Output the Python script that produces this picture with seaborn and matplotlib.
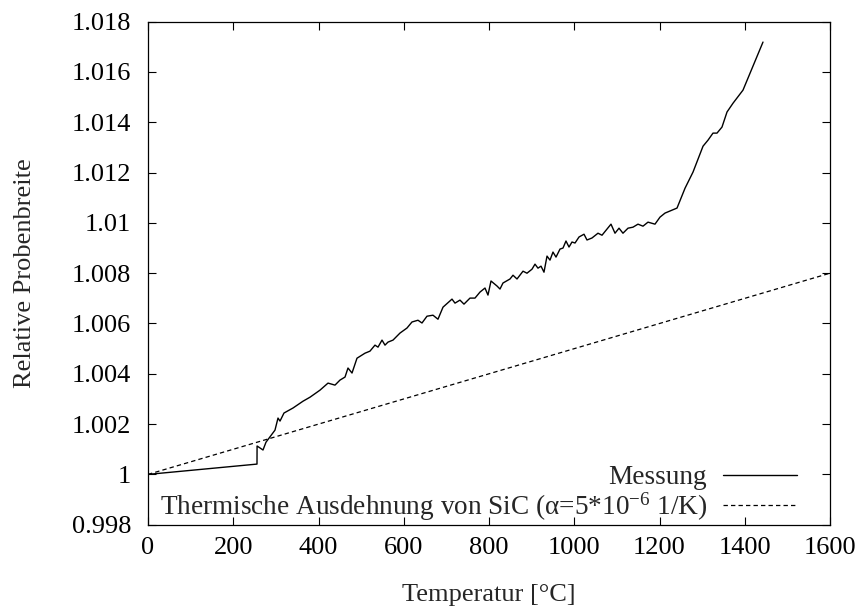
import numpy as np
import pandas as pd
import matplotlib
matplotlib.use("Agg")
import matplotlib.pyplot as plt
from matplotlib.ticker import FuncFormatter, MultipleLocator
import seaborn as sns

temp_mess = [0, 255.7, 255.9, 269.8, 276.8, 297.9, 305, 309.7, 319, 340.2, 363.6, 380.1,
             403.5, 422.3, 438.7, 450.4, 462.2, 469.2, 478.6, 490.3, 509.1, 520.7, 532.5,
             539.6, 549, 556, 563, 574.8, 591.2, 607.6, 619.3, 633.4, 642.8, 654.5,
             668.6, 680.3, 692.1, 713.2, 720.2, 731.9, 741.3, 755.4, 767.1, 778.9, 790.6,
             797.6, 804.7, 818.8, 825.8, 832.8, 849.3, 856.3, 865.7, 879.8, 889.1, 900.9,
             907.9, 914.9, 922, 929, 936.1, 943.1, 950.1, 957.2, 966.6, 973.6, 980.6,
             987.7, 994.7, 1001.8, 1011.2, 1022.9, 1029.9, 1041.6, 1055.7, 1065.1, 1086.2,
             1095.6, 1105, 1114.3, 1126.1, 1137.8, 1149.5, 1161.3, 1173, 1189.4, 1201.2,
             1212.9, 1241.1, 1259.9, 1278.6, 1302.1, 1313.8, 1325.5, 1334.9, 1346.6, 1358.4,
             1372.5, 1395.9, 1442.8]
breite_mess = [1.0, 1.00041, 1.00113, 1.00097, 1.00128, 1.00176, 1.00224, 1.00212, 1.00244,
               1.00264, 1.00291, 1.00307, 1.00335, 1.00363, 1.00355, 1.00375, 1.00387,
               1.00423, 1.00403, 1.00462, 1.00482, 1.0049, 1.00514, 1.00506, 1.00534,
               1.00514, 1.00526, 1.00534, 1.00562, 1.00582, 1.00606, 1.00613, 1.00602,
               1.00629, 1.00633, 1.00617, 1.00665, 1.00697, 1.00681, 1.00693, 1.00677,
               1.00701, 1.00701, 1.00725, 1.00741, 1.00713, 1.00769, 1.00749, 1.00737,
               1.00761, 1.00777, 1.00792, 1.00777, 1.00808, 1.008, 1.00816, 1.00836,
               1.0082, 1.00828, 1.00804, 1.00868, 1.00852, 1.00884, 1.00864, 1.00896,
               1.009, 1.00928, 1.00904, 1.00924, 1.0092, 1.00944, 1.00955, 1.00932,
               1.0094, 1.00959, 1.00951, 1.00995, 1.00959, 1.00979, 1.00959, 1.00979,
               1.00983, 1.00995, 1.00987, 1.01003, 1.00995, 1.01023, 1.01039, 1.01059,
               1.01138, 1.01202, 1.01305, 1.01329, 1.01357, 1.01357, 1.01381, 1.01441,
               1.01476, 1.01528, 1.01719]

# Thermal expansion of SiC (alpha = 5e-6 1/K), straight line endpoints
temp_sic = [0, 1600]
breite_sic = [1.0, 1.008]

label_mess = "Messung"
label_sic = "Thermische Ausdehnung von SiC (α=5*$10^{-6}$ 1/K)"

sns.set_style("ticks")
plt.rcParams["font.family"] = ["Liberation Serif", "DejaVu Serif"]
plt.rcParams["mathtext.fontset"] = "custom"
plt.rcParams["mathtext.rm"] = "Liberation Serif"
plt.rcParams["mathtext.it"] = "Liberation Serif:italic"
plt.rcParams["mathtext.default"] = "regular"

FS = 19

fig = plt.figure(figsize=(8.61, 6.07), dpi=100)
ax = fig.add_axes([148 / 861, 82.3 / 607, 682 / 861, 503 / 607])

df_m = pd.DataFrame({"T": temp_mess, "B": breite_mess})
df_s = pd.DataFrame({"T": temp_sic, "B": breite_sic})

sns.lineplot(data=df_m, x="T", y="B", ax=ax, color="black", lw=1.0,
             estimator=None, sort=False, label=label_mess)
sns.lineplot(data=df_s, x="T", y="B", ax=ax, color="black", lw=0.9,
             estimator=None, sort=False, label=label_sic)
ax.lines[1].set_linestyle((0, (3.5, 2.5)))

ax.set_xlim(0, 1600)
ax.set_ylim(0.998, 1.018)
ax.xaxis.set_major_locator(MultipleLocator(200))
ax.yaxis.set_major_locator(MultipleLocator(0.002))
ax.yaxis.set_major_formatter(FuncFormatter(lambda v, p: "%g" % round(v, 6)))
ax.xaxis.set_major_formatter(FuncFormatter(lambda v, p: "%g" % v))

ax.tick_params(direction="in", length=5.5, width=0.8, top=True, right=True,
               labelsize=FS, colors="black")
ax.tick_params(axis="y", pad=12)
ax.tick_params(axis="x", pad=9)
for s in ax.spines.values():
    s.set_visible(True)
    s.set_linewidth(0.9)
    s.set_color("black")

ax.set_xlabel("Temperatur [°C]", fontsize=FS, labelpad=18)
ax.set_ylabel("Relative Probenbreite", fontsize=FS, labelpad=26)

leg = ax.legend(loc="lower right", bbox_to_anchor=(0.9516, 0.004), frameon=False,
                markerfirst=False, fontsize=19.6, handlelength=2.7, handletextpad=0.6,
                labelspacing=0.0, borderpad=0.0, borderaxespad=0)

fig.savefig("out.png", dpi=100)
